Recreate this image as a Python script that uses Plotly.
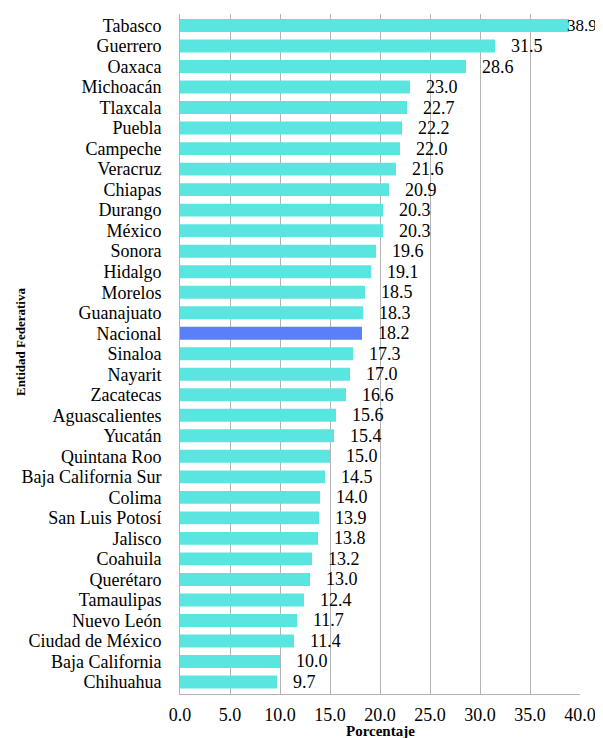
import plotly.graph_objects as go

estados = ["Tabasco", "Guerrero", "Oaxaca", "Michoacán", "Tlaxcala", "Puebla", "Campeche",
           "Veracruz", "Chiapas", "Durango", "México", "Sonora", "Hidalgo", "Morelos",
           "Guanajuato", "Nacional", "Sinaloa", "Nayarit", "Zacatecas", "Aguascalientes",
           "Yucatán", "Quintana Roo", "Baja California Sur", "Colima", "San Luis Potosí",
           "Jalisco", "Coahuila", "Querétaro", "Tamaulipas", "Nuevo León",
           "Ciudad de México", "Baja California", "Chihuahua"]
porcentajes = [38.9, 31.5, 28.6, 23.0, 22.7, 22.2, 22.0, 21.6, 20.9, 20.3, 20.3, 19.6, 19.1,
               18.5, 18.3, 18.2, 17.3, 17.0, 16.6, 15.6, 15.4, 15.0, 14.5, 14.0, 13.9, 13.8,
               13.2, 13.0, 12.4, 11.7, 11.4, 10.0, 9.7]
x_ticks = [0, 5, 10, 15, 20, 25, 30, 35, 40]
x_tick_labels = ["0.0", "5.0", "10.0", "15.0", "20.0", "25.0", "30.0", "35.0", "40.0"]

CYAN = "#5BE5E0"
BLUE = "#5A7FF7"
FONT = "Times New Roman"
X_MAX = x_ticks[-1]

colors = [BLUE if e == "Nacional" else CYAN for e in estados]

fig = go.Figure(go.Bar(
    y=estados, x=porcentajes, orientation="h",
    marker=dict(color=colors, line=dict(width=0)),
    hoverinfo="skip",
))

for e, v in zip(estados, porcentajes):
    if v > 35:
        # label near the right edge: keep it inside the figure
        fig.add_annotation(x=X_MAX, y=e, xref="x", yref="y", text=f"{v:.1f}",
                           showarrow=False, xanchor="right", yanchor="middle",
                           xshift=19, font=dict(family=FONT, size=17, color="black"))
    else:
        fig.add_annotation(x=v, y=e, xref="x", yref="y", text=f"{v:.1f}",
                           showarrow=False, xanchor="left", yanchor="middle",
                           xshift=14, font=dict(family=FONT, size=18, color="black"))

fig.add_annotation(x=-0.4, y=0.5176, xref="paper", yref="paper", text="<b>Entidad Federativa</b>",
                   showarrow=False, textangle=-90, xanchor="center", yanchor="middle",
                   font=dict(family=FONT, size=13, color="black"))
fig.add_annotation(x=0.5, y=-0.0544, xref="paper", yref="paper", text="<b>Porcentaje</b>",
                   showarrow=False, xanchor="center", yanchor="middle",
                   font=dict(family=FONT, size=15, color="black"))

fig.update_layout(
    width=595, height=730,
    margin=dict(l=172, r=23, t=6, b=44),
    paper_bgcolor="white", plot_bgcolor="white",
    bargap=0.37,
    showlegend=False,
    font=dict(family=FONT, size=18, color="black"),
    xaxis=dict(range=[0, X_MAX], tickvals=x_ticks, ticktext=x_tick_labels,
               tickfont=dict(family=FONT, size=18),
               showgrid=True, gridcolor="#b3b3b3", gridwidth=1,
               showline=True, linecolor="#b3b3b3", linewidth=1,
               ticks="outside", ticklen=4, tickcolor="rgba(0,0,0,0)",
               zeroline=False, fixedrange=True, automargin=False),
    yaxis=dict(autorange="reversed", showgrid=False,
               tickmode="array", tickvals=estados, ticktext=estados,
               tickfont=dict(family=FONT, size=18),
               showline=True, linecolor="#b3b3b3", linewidth=1,
               ticks="outside", ticklen=14, tickcolor="rgba(0,0,0,0)",
               fixedrange=True, automargin=False),
)

fig.write_html("out.html")
